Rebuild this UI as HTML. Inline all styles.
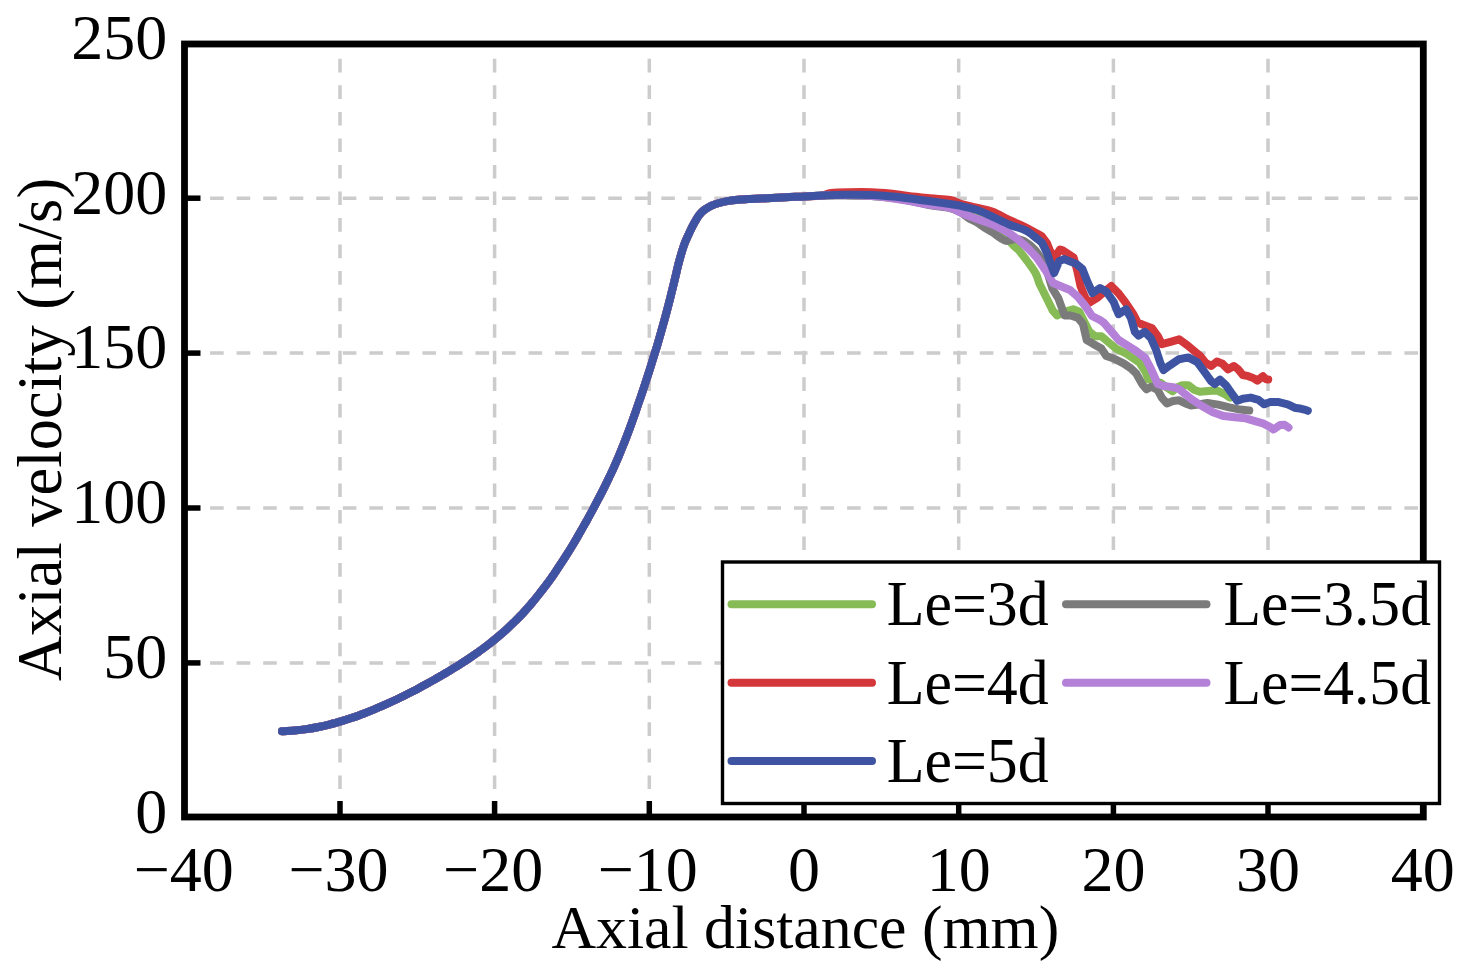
<!DOCTYPE html>
<html><head><meta charset="utf-8"><style>
html,body{margin:0;padding:0;background:#fff;}
body{width:1461px;height:977px;overflow:hidden;}
svg{display:block;}
</style></head><body>
<svg width="1461" height="977" viewBox="0 0 1461 977">
<rect width="1461" height="977" fill="#fff"/>
<g stroke="#CCCCCC" stroke-width="3.5" stroke-dasharray="13.6 12.94" fill="none">
<g stroke-dashoffset="-14.80"><line x1="340.0" y1="44.0" x2="340.0" y2="817.0"/>
<line x1="494.6" y1="44.0" x2="494.6" y2="817.0"/>
<line x1="649.3" y1="44.0" x2="649.3" y2="817.0"/>
<line x1="804.0" y1="44.0" x2="804.0" y2="817.0"/>
<line x1="958.7" y1="44.0" x2="958.7" y2="817.0"/>
<line x1="1113.4" y1="44.0" x2="1113.4" y2="817.0"/>
<line x1="1268.0" y1="44.0" x2="1268.0" y2="817.0"/></g>
<g stroke-dashoffset="-25.60"><line x1="184.5" y1="662.9" x2="1423.3" y2="662.9"/>
<line x1="184.5" y1="508.0" x2="1423.3" y2="508.0"/>
<line x1="184.5" y1="353.1" x2="1423.3" y2="353.1"/>
<line x1="184.5" y1="198.2" x2="1423.3" y2="198.2"/></g>
</g>
<g fill="none" stroke-width="8" stroke-linejoin="round" stroke-linecap="round">
<path d="M282.0,731.3 C284.1,731.2 290.3,731.0 294.4,730.6 C298.5,730.2 302.6,729.7 306.6,729.1 C310.6,728.5 314.6,727.8 318.5,727.0 C322.4,726.2 326.2,725.3 330.1,724.3 C334.0,723.3 337.8,722.2 341.6,721.1 C345.4,720.0 349.2,718.8 352.9,717.5 C356.6,716.2 360.3,714.8 364.0,713.4 C367.7,712.0 371.3,710.6 374.9,709.1 C378.5,707.6 382.1,706.0 385.7,704.4 C389.3,702.8 392.8,701.2 396.4,699.5 C399.9,697.8 403.5,696.1 407.0,694.3 C410.5,692.5 414.0,690.8 417.5,688.9 C421.0,687.0 424.4,685.1 427.9,683.2 C431.4,681.3 434.9,679.4 438.3,677.4 C441.8,675.4 445.2,673.4 448.6,671.4 C452.0,669.4 455.4,667.2 458.8,665.1 C462.2,663.0 465.5,660.8 468.8,658.6 C472.1,656.4 475.4,654.0 478.7,651.7 C481.9,649.4 485.1,647.0 488.3,644.6 C491.5,642.2 494.5,639.7 497.6,637.1 C500.7,634.5 503.7,631.9 506.7,629.2 C509.7,626.5 512.5,623.7 515.4,620.9 C518.2,618.1 521.1,615.2 523.8,612.2 C526.5,609.2 529.2,606.2 531.8,603.1 C534.4,600.0 537.0,596.8 539.5,593.6 C542.0,590.4 544.6,587.2 547.0,583.9 C549.4,580.6 551.8,577.3 554.1,573.9 C556.4,570.5 558.7,567.0 561.0,563.6 C563.3,560.2 565.5,556.7 567.7,553.2 C569.9,549.7 572.0,546.2 574.1,542.7 C576.2,539.2 578.2,535.6 580.3,532.0 C582.3,528.4 584.4,524.8 586.4,521.2 C588.4,517.6 590.4,514.1 592.3,510.5 C594.2,506.9 596.1,503.3 598.0,499.7 C599.9,496.1 601.8,492.5 603.6,488.9 C605.4,485.3 607.2,481.6 608.9,478.0 C610.6,474.4 612.4,470.8 614.0,467.1 C615.6,463.5 617.2,459.8 618.8,456.1 C620.3,452.4 621.8,448.8 623.3,445.1 C624.8,441.4 626.2,437.7 627.6,434.0 C629.0,430.3 630.4,426.5 631.7,422.8 C633.1,419.1 634.4,415.3 635.7,411.6 C637.0,407.9 638.2,404.2 639.5,400.5 C640.8,396.8 642.0,393.0 643.3,389.3 C644.5,385.6 645.8,381.8 647.0,378.1 C648.2,374.4 649.4,370.7 650.6,366.9 C651.8,363.1 652.9,359.3 654.1,355.5 C655.3,351.7 656.5,347.9 657.6,344.1 C658.7,340.3 659.8,336.5 660.9,332.6 C662.0,328.7 663.1,324.8 664.2,320.9 C665.3,317.0 666.4,313.0 667.4,309.0 C668.4,305.0 669.5,300.9 670.5,296.9 C671.5,292.8 672.5,288.8 673.5,284.7 C674.5,280.6 675.5,276.4 676.5,272.2 C677.5,268.0 678.3,264.3 679.6,259.7 C680.9,255.0 682.5,249.1 684.3,244.3 C686.1,239.5 688.5,234.6 690.2,231.0 C691.9,227.4 692.9,225.5 694.4,222.8 C695.9,220.1 697.5,217.2 699.2,215.0 C700.9,212.8 702.5,211.3 704.5,209.8 C706.5,208.3 708.6,206.9 711.0,205.8 C713.4,204.7 716.1,203.8 719.1,203.0 C722.1,202.2 725.6,201.4 728.7,200.9 C731.9,200.4 734.8,200.1 738.0,199.8 C741.2,199.5 743.2,199.4 748.0,199.1 C752.8,198.8 760.7,198.5 767.0,198.2 C773.3,197.9 779.7,197.5 786.0,197.2 C792.3,196.9 799.0,196.8 805.0,196.5 C811.0,196.2 817.7,195.8 822.0,195.6 C826.3,195.4 826.7,195.4 831.0,195.3 C835.3,195.2 841.2,195.1 848.0,195.2 C854.8,195.3 863.3,195.4 872.0,196.0 C880.7,196.6 890.9,197.7 900.0,199.0 C909.1,200.3 917.3,202.5 926.8,204.0 C936.3,205.5 949.0,206.5 957.0,208.0 C965.0,209.5 969.5,211.2 975.0,213.0 C980.5,214.8 985.8,216.5 990.0,219.0 C994.2,221.5 996.3,223.8 1000.0,228.0 C1003.7,232.2 1009.1,240.4 1012.3,244.2 C1015.5,247.9 1016.5,247.6 1019.0,250.5 C1021.5,253.4 1024.8,257.8 1027.5,261.5 C1030.2,265.2 1033.5,269.3 1035.5,273.0 C1037.5,276.7 1038.7,281.8 1039.3,283.5 L1046.7,298.3 L1052.8,310.6 L1057.2,315.5 L1064.6,311.8 L1073.2,309.3 L1079.3,311.8 L1084.2,321.6 L1089.1,331.4 L1095.3,336.3 L1101.4,336.3 L1108.8,342.5 L1116.2,348.6 L1126.0,353.5 L1133.4,358.5 L1139.2,362.3 L1145.3,371.5 L1148.4,379.5 L1160.7,382.8 L1166.0,387.0 L1172.4,391.3 L1177.0,387.5 L1182.2,385.3 L1188.3,385.3 L1194.5,390.0 L1200.0,391.8 L1211.3,390.8 L1218.0,390.8 L1224.8,394.2 L1230.0,397.5" stroke="#86BB56"/>
<path d="M282.0,731.3 C284.1,731.2 290.3,731.0 294.4,730.6 C298.5,730.2 302.6,729.7 306.6,729.1 C310.6,728.5 314.6,727.8 318.5,727.0 C322.4,726.2 326.2,725.3 330.1,724.3 C334.0,723.3 337.8,722.2 341.6,721.1 C345.4,720.0 349.2,718.8 352.9,717.5 C356.6,716.2 360.3,714.8 364.0,713.4 C367.7,712.0 371.3,710.6 374.9,709.1 C378.5,707.6 382.1,706.0 385.7,704.4 C389.3,702.8 392.8,701.2 396.4,699.5 C399.9,697.8 403.5,696.1 407.0,694.3 C410.5,692.5 414.0,690.8 417.5,688.9 C421.0,687.0 424.4,685.1 427.9,683.2 C431.4,681.3 434.9,679.4 438.3,677.4 C441.8,675.4 445.2,673.4 448.6,671.4 C452.0,669.4 455.4,667.2 458.8,665.1 C462.2,663.0 465.5,660.8 468.8,658.6 C472.1,656.4 475.4,654.0 478.7,651.7 C481.9,649.4 485.1,647.0 488.3,644.6 C491.5,642.2 494.5,639.7 497.6,637.1 C500.7,634.5 503.7,631.9 506.7,629.2 C509.7,626.5 512.5,623.7 515.4,620.9 C518.2,618.1 521.1,615.2 523.8,612.2 C526.5,609.2 529.2,606.2 531.8,603.1 C534.4,600.0 537.0,596.8 539.5,593.6 C542.0,590.4 544.6,587.2 547.0,583.9 C549.4,580.6 551.8,577.3 554.1,573.9 C556.4,570.5 558.7,567.0 561.0,563.6 C563.3,560.2 565.5,556.7 567.7,553.2 C569.9,549.7 572.0,546.2 574.1,542.7 C576.2,539.2 578.2,535.6 580.3,532.0 C582.3,528.4 584.4,524.8 586.4,521.2 C588.4,517.6 590.4,514.1 592.3,510.5 C594.2,506.9 596.1,503.3 598.0,499.7 C599.9,496.1 601.8,492.5 603.6,488.9 C605.4,485.3 607.2,481.6 608.9,478.0 C610.6,474.4 612.4,470.8 614.0,467.1 C615.6,463.5 617.2,459.8 618.8,456.1 C620.3,452.4 621.8,448.8 623.3,445.1 C624.8,441.4 626.2,437.7 627.6,434.0 C629.0,430.3 630.4,426.5 631.7,422.8 C633.1,419.1 634.4,415.3 635.7,411.6 C637.0,407.9 638.2,404.2 639.5,400.5 C640.8,396.8 642.0,393.0 643.3,389.3 C644.5,385.6 645.8,381.8 647.0,378.1 C648.2,374.4 649.4,370.7 650.6,366.9 C651.8,363.1 652.9,359.3 654.1,355.5 C655.3,351.7 656.5,347.9 657.6,344.1 C658.7,340.3 659.8,336.5 660.9,332.6 C662.0,328.7 663.1,324.8 664.2,320.9 C665.3,317.0 666.4,313.0 667.4,309.0 C668.4,305.0 669.5,300.9 670.5,296.9 C671.5,292.8 672.5,288.8 673.5,284.7 C674.5,280.6 675.5,276.4 676.5,272.2 C677.5,268.0 678.3,264.3 679.6,259.7 C680.9,255.0 682.5,249.1 684.3,244.3 C686.1,239.5 688.5,234.6 690.2,231.0 C691.9,227.4 692.9,225.5 694.4,222.8 C695.9,220.1 697.5,217.2 699.2,215.0 C700.9,212.8 702.5,211.3 704.5,209.8 C706.5,208.3 708.6,206.9 711.0,205.8 C713.4,204.7 716.1,203.8 719.1,203.0 C722.1,202.2 725.6,201.4 728.7,200.9 C731.9,200.4 734.8,200.1 738.0,199.8 C741.2,199.5 743.2,199.4 748.0,199.1 C752.8,198.8 760.7,198.5 767.0,198.2 C773.3,197.9 779.7,197.5 786.0,197.2 C792.3,196.9 799.0,196.8 805.0,196.5 C811.0,196.2 817.7,195.8 822.0,195.6 C826.3,195.4 826.7,195.4 831.0,195.3 C835.3,195.2 841.2,195.1 848.0,195.2 C854.8,195.3 863.3,195.4 872.0,196.0 C880.7,196.6 890.9,197.1 900.0,198.5 C909.1,199.9 918.5,202.9 926.8,204.5 C935.1,206.1 944.5,206.8 950.0,208.0 C955.5,209.2 957.0,210.4 960.0,212.0 C963.0,213.6 965.5,216.1 968.2,217.8 C970.9,219.5 973.7,220.4 976.4,222.0 C979.1,223.6 981.9,225.8 984.6,227.6 C987.3,229.3 990.1,230.7 992.8,232.5 C995.5,234.3 998.7,236.9 1001.0,238.3 C1003.3,239.7 1004.2,240.9 1006.7,241.0 C1009.2,241.1 1013.1,239.0 1016.0,239.0 C1018.9,239.0 1020.8,239.2 1024.0,241.0 C1027.2,242.8 1031.7,246.4 1035.0,250.0 C1038.3,253.6 1042.5,260.4 1044.0,262.5 L1048.0,274.0 L1052.3,288.4 L1058.4,298.3 L1064.6,315.5 L1070.7,315.5 L1078.1,317.9 L1083.0,324.0 L1086.7,340.0 L1092.8,343.7 L1101.4,348.6 L1106.3,356.0 L1113.7,358.5 L1123.5,363.4 L1130.9,368.3 L1136.1,373.3 L1142.3,384.4 L1146.6,389.3 L1151.5,386.8 L1157.6,389.9 L1161.9,397.9 L1166.8,403.4 L1173.0,401.0 L1179.1,400.3 L1185.5,403.5 L1191.0,405.5 L1198.0,404.5 L1207.4,403.0 L1218.3,404.6 L1229.3,407.4 L1240.2,409.6 L1249.3,410.5" stroke="#7B7B7B"/>
<path d="M282.0,731.3 C284.1,731.2 290.3,731.0 294.4,730.6 C298.5,730.2 302.6,729.7 306.6,729.1 C310.6,728.5 314.6,727.8 318.5,727.0 C322.4,726.2 326.2,725.3 330.1,724.3 C334.0,723.3 337.8,722.2 341.6,721.1 C345.4,720.0 349.2,718.8 352.9,717.5 C356.6,716.2 360.3,714.8 364.0,713.4 C367.7,712.0 371.3,710.6 374.9,709.1 C378.5,707.6 382.1,706.0 385.7,704.4 C389.3,702.8 392.8,701.2 396.4,699.5 C399.9,697.8 403.5,696.1 407.0,694.3 C410.5,692.5 414.0,690.8 417.5,688.9 C421.0,687.0 424.4,685.1 427.9,683.2 C431.4,681.3 434.9,679.4 438.3,677.4 C441.8,675.4 445.2,673.4 448.6,671.4 C452.0,669.4 455.4,667.2 458.8,665.1 C462.2,663.0 465.5,660.8 468.8,658.6 C472.1,656.4 475.4,654.0 478.7,651.7 C481.9,649.4 485.1,647.0 488.3,644.6 C491.5,642.2 494.5,639.7 497.6,637.1 C500.7,634.5 503.7,631.9 506.7,629.2 C509.7,626.5 512.5,623.7 515.4,620.9 C518.2,618.1 521.1,615.2 523.8,612.2 C526.5,609.2 529.2,606.2 531.8,603.1 C534.4,600.0 537.0,596.8 539.5,593.6 C542.0,590.4 544.6,587.2 547.0,583.9 C549.4,580.6 551.8,577.3 554.1,573.9 C556.4,570.5 558.7,567.0 561.0,563.6 C563.3,560.2 565.5,556.7 567.7,553.2 C569.9,549.7 572.0,546.2 574.1,542.7 C576.2,539.2 578.2,535.6 580.3,532.0 C582.3,528.4 584.4,524.8 586.4,521.2 C588.4,517.6 590.4,514.1 592.3,510.5 C594.2,506.9 596.1,503.3 598.0,499.7 C599.9,496.1 601.8,492.5 603.6,488.9 C605.4,485.3 607.2,481.6 608.9,478.0 C610.6,474.4 612.4,470.8 614.0,467.1 C615.6,463.5 617.2,459.8 618.8,456.1 C620.3,452.4 621.8,448.8 623.3,445.1 C624.8,441.4 626.2,437.7 627.6,434.0 C629.0,430.3 630.4,426.5 631.7,422.8 C633.1,419.1 634.4,415.3 635.7,411.6 C637.0,407.9 638.2,404.2 639.5,400.5 C640.8,396.8 642.0,393.0 643.3,389.3 C644.5,385.6 645.8,381.8 647.0,378.1 C648.2,374.4 649.4,370.7 650.6,366.9 C651.8,363.1 652.9,359.3 654.1,355.5 C655.3,351.7 656.5,347.9 657.6,344.1 C658.7,340.3 659.8,336.5 660.9,332.6 C662.0,328.7 663.1,324.8 664.2,320.9 C665.3,317.0 666.4,313.0 667.4,309.0 C668.4,305.0 669.5,300.9 670.5,296.9 C671.5,292.8 672.5,288.8 673.5,284.7 C674.5,280.6 675.5,276.4 676.5,272.2 C677.5,268.0 678.3,264.3 679.6,259.7 C680.9,255.0 682.5,249.1 684.3,244.3 C686.1,239.5 688.5,234.6 690.2,231.0 C691.9,227.4 692.9,225.5 694.4,222.8 C695.9,220.1 697.5,217.2 699.2,215.0 C700.9,212.8 702.5,211.3 704.5,209.8 C706.5,208.3 708.6,206.9 711.0,205.8 C713.4,204.7 716.1,203.8 719.1,203.0 C722.1,202.2 725.6,201.4 728.7,200.9 C731.9,200.4 734.8,200.1 738.0,199.8 C741.2,199.5 743.2,199.4 748.0,199.1 C752.8,198.8 760.7,198.5 767.0,198.2 C773.3,197.9 779.7,197.5 786.0,197.2 C792.3,196.9 799.0,196.8 805.0,196.5 C811.0,196.2 817.7,196.2 822.0,195.6 C826.3,195.0 826.7,193.6 831.0,193.0 C835.3,192.4 841.2,192.3 848.0,192.2 C854.8,192.1 865.0,192.0 872.0,192.2 C879.0,192.4 884.0,192.9 890.0,193.5 C896.0,194.1 901.6,195.2 908.3,196.0 C915.0,196.8 923.2,197.6 930.2,198.3 C937.2,199.0 945.0,199.1 950.0,200.0 C955.0,200.9 955.6,202.2 960.0,203.5 C964.4,204.8 970.9,206.2 976.4,207.6 C981.9,209.0 987.3,209.6 992.8,211.7 C998.2,213.8 1003.6,217.3 1009.1,219.9 C1014.6,222.5 1020.0,224.6 1025.5,227.3 C1031.0,230.0 1039.2,234.8 1041.9,236.3 L1046.8,242.8 L1050.1,251.0 L1054.5,258.0 L1060.0,249.5 L1062.7,250.4 L1073.7,257.7 L1077.4,271.3 L1080.5,286.0 L1085.5,298.3 L1089.5,302.6 L1097.7,297.6 L1104.0,292.0 L1111.3,286.0 L1118.6,293.3 L1126.0,303.2 L1133.4,314.2 L1137.4,322.1 L1142.3,324.6 L1152.1,328.3 L1158.3,336.9 L1161.9,344.2 L1170.5,341.8 L1179.1,339.3 L1187.7,345.5 L1196.3,352.8 L1200.0,355.9 L1205.6,362.7 L1211.3,366.0 L1216.9,361.5 L1222.5,363.8 L1228.1,369.4 L1233.8,366.0 L1238.3,369.4 L1242.8,375.0 L1248.4,376.2 L1254.0,378.4 L1257.4,380.7 L1263.0,376.2 L1266.0,379.3 L1268.3,379.5" stroke="#D4373A"/>
<path d="M282.0,731.3 C284.1,731.2 290.3,731.0 294.4,730.6 C298.5,730.2 302.6,729.7 306.6,729.1 C310.6,728.5 314.6,727.8 318.5,727.0 C322.4,726.2 326.2,725.3 330.1,724.3 C334.0,723.3 337.8,722.2 341.6,721.1 C345.4,720.0 349.2,718.8 352.9,717.5 C356.6,716.2 360.3,714.8 364.0,713.4 C367.7,712.0 371.3,710.6 374.9,709.1 C378.5,707.6 382.1,706.0 385.7,704.4 C389.3,702.8 392.8,701.2 396.4,699.5 C399.9,697.8 403.5,696.1 407.0,694.3 C410.5,692.5 414.0,690.8 417.5,688.9 C421.0,687.0 424.4,685.1 427.9,683.2 C431.4,681.3 434.9,679.4 438.3,677.4 C441.8,675.4 445.2,673.4 448.6,671.4 C452.0,669.4 455.4,667.2 458.8,665.1 C462.2,663.0 465.5,660.8 468.8,658.6 C472.1,656.4 475.4,654.0 478.7,651.7 C481.9,649.4 485.1,647.0 488.3,644.6 C491.5,642.2 494.5,639.7 497.6,637.1 C500.7,634.5 503.7,631.9 506.7,629.2 C509.7,626.5 512.5,623.7 515.4,620.9 C518.2,618.1 521.1,615.2 523.8,612.2 C526.5,609.2 529.2,606.2 531.8,603.1 C534.4,600.0 537.0,596.8 539.5,593.6 C542.0,590.4 544.6,587.2 547.0,583.9 C549.4,580.6 551.8,577.3 554.1,573.9 C556.4,570.5 558.7,567.0 561.0,563.6 C563.3,560.2 565.5,556.7 567.7,553.2 C569.9,549.7 572.0,546.2 574.1,542.7 C576.2,539.2 578.2,535.6 580.3,532.0 C582.3,528.4 584.4,524.8 586.4,521.2 C588.4,517.6 590.4,514.1 592.3,510.5 C594.2,506.9 596.1,503.3 598.0,499.7 C599.9,496.1 601.8,492.5 603.6,488.9 C605.4,485.3 607.2,481.6 608.9,478.0 C610.6,474.4 612.4,470.8 614.0,467.1 C615.6,463.5 617.2,459.8 618.8,456.1 C620.3,452.4 621.8,448.8 623.3,445.1 C624.8,441.4 626.2,437.7 627.6,434.0 C629.0,430.3 630.4,426.5 631.7,422.8 C633.1,419.1 634.4,415.3 635.7,411.6 C637.0,407.9 638.2,404.2 639.5,400.5 C640.8,396.8 642.0,393.0 643.3,389.3 C644.5,385.6 645.8,381.8 647.0,378.1 C648.2,374.4 649.4,370.7 650.6,366.9 C651.8,363.1 652.9,359.3 654.1,355.5 C655.3,351.7 656.5,347.9 657.6,344.1 C658.7,340.3 659.8,336.5 660.9,332.6 C662.0,328.7 663.1,324.8 664.2,320.9 C665.3,317.0 666.4,313.0 667.4,309.0 C668.4,305.0 669.5,300.9 670.5,296.9 C671.5,292.8 672.5,288.8 673.5,284.7 C674.5,280.6 675.5,276.4 676.5,272.2 C677.5,268.0 678.3,264.3 679.6,259.7 C680.9,255.0 682.5,249.1 684.3,244.3 C686.1,239.5 688.5,234.6 690.2,231.0 C691.9,227.4 692.9,225.5 694.4,222.8 C695.9,220.1 697.5,217.2 699.2,215.0 C700.9,212.8 702.5,211.3 704.5,209.8 C706.5,208.3 708.6,206.9 711.0,205.8 C713.4,204.7 716.1,203.8 719.1,203.0 C722.1,202.2 725.6,201.4 728.7,200.9 C731.9,200.4 734.8,200.1 738.0,199.8 C741.2,199.5 743.2,199.4 748.0,199.1 C752.8,198.8 760.7,198.5 767.0,198.2 C773.3,197.9 779.7,197.5 786.0,197.2 C792.3,196.9 799.0,196.8 805.0,196.5 C811.0,196.2 817.7,195.8 822.0,195.6 C826.3,195.4 826.7,195.4 831.0,195.3 C835.3,195.2 841.2,195.1 848.0,195.2 C854.8,195.3 863.3,195.3 872.0,196.0 C880.7,196.7 890.9,198.1 900.0,199.5 C909.1,200.9 918.5,202.9 926.8,204.3 C935.1,205.7 944.5,206.5 950.0,207.8 C955.5,209.1 955.6,210.5 960.0,212.3 C964.4,214.1 970.9,216.8 976.4,218.8 C981.9,220.9 987.3,222.2 992.8,224.6 C998.2,227.0 1003.6,229.6 1009.1,233.2 C1014.6,236.8 1020.9,241.8 1025.5,245.9 C1030.1,250.0 1035.0,255.7 1036.9,257.7 L1046.0,271.0 L1053.0,283.0 L1061.4,286.5 L1070.0,290.0 L1078.0,297.0 L1085.0,305.6 L1092.0,316.0 L1100.0,320.0 L1104.0,322.8 L1111.3,331.4 L1118.6,340.0 L1128.5,346.2 L1136.1,351.0 L1145.3,358.0 L1150.3,367.5 L1154.6,377.0 L1157.6,384.0 L1163.8,386.0 L1173.0,387.2 L1179.1,389.0 L1185.2,394.2 L1191.0,398.8 L1201.9,406.0 L1212.9,412.3 L1223.8,416.1 L1234.8,417.2 L1245.7,418.3 L1256.7,421.6 L1263.0,423.4 L1269.8,426.8 L1273.5,429.5 L1280.0,425.0 L1284.5,424.8 L1288.5,427.5" stroke="#B480D8"/>
<path d="M282.0,731.3 C284.1,731.2 290.3,731.0 294.4,730.6 C298.5,730.2 302.6,729.7 306.6,729.1 C310.6,728.5 314.6,727.8 318.5,727.0 C322.4,726.2 326.2,725.3 330.1,724.3 C334.0,723.3 337.8,722.2 341.6,721.1 C345.4,720.0 349.2,718.8 352.9,717.5 C356.6,716.2 360.3,714.8 364.0,713.4 C367.7,712.0 371.3,710.6 374.9,709.1 C378.5,707.6 382.1,706.0 385.7,704.4 C389.3,702.8 392.8,701.2 396.4,699.5 C399.9,697.8 403.5,696.1 407.0,694.3 C410.5,692.5 414.0,690.8 417.5,688.9 C421.0,687.0 424.4,685.1 427.9,683.2 C431.4,681.3 434.9,679.4 438.3,677.4 C441.8,675.4 445.2,673.4 448.6,671.4 C452.0,669.4 455.4,667.2 458.8,665.1 C462.2,663.0 465.5,660.8 468.8,658.6 C472.1,656.4 475.4,654.0 478.7,651.7 C481.9,649.4 485.1,647.0 488.3,644.6 C491.5,642.2 494.5,639.7 497.6,637.1 C500.7,634.5 503.7,631.9 506.7,629.2 C509.7,626.5 512.5,623.7 515.4,620.9 C518.2,618.1 521.1,615.2 523.8,612.2 C526.5,609.2 529.2,606.2 531.8,603.1 C534.4,600.0 537.0,596.8 539.5,593.6 C542.0,590.4 544.6,587.2 547.0,583.9 C549.4,580.6 551.8,577.3 554.1,573.9 C556.4,570.5 558.7,567.0 561.0,563.6 C563.3,560.2 565.5,556.7 567.7,553.2 C569.9,549.7 572.0,546.2 574.1,542.7 C576.2,539.2 578.2,535.6 580.3,532.0 C582.3,528.4 584.4,524.8 586.4,521.2 C588.4,517.6 590.4,514.1 592.3,510.5 C594.2,506.9 596.1,503.3 598.0,499.7 C599.9,496.1 601.8,492.5 603.6,488.9 C605.4,485.3 607.2,481.6 608.9,478.0 C610.6,474.4 612.4,470.8 614.0,467.1 C615.6,463.5 617.2,459.8 618.8,456.1 C620.3,452.4 621.8,448.8 623.3,445.1 C624.8,441.4 626.2,437.7 627.6,434.0 C629.0,430.3 630.4,426.5 631.7,422.8 C633.1,419.1 634.4,415.3 635.7,411.6 C637.0,407.9 638.2,404.2 639.5,400.5 C640.8,396.8 642.0,393.0 643.3,389.3 C644.5,385.6 645.8,381.8 647.0,378.1 C648.2,374.4 649.4,370.7 650.6,366.9 C651.8,363.1 652.9,359.3 654.1,355.5 C655.3,351.7 656.5,347.9 657.6,344.1 C658.7,340.3 659.8,336.5 660.9,332.6 C662.0,328.7 663.1,324.8 664.2,320.9 C665.3,317.0 666.4,313.0 667.4,309.0 C668.4,305.0 669.5,300.9 670.5,296.9 C671.5,292.8 672.5,288.8 673.5,284.7 C674.5,280.6 675.5,276.4 676.5,272.2 C677.5,268.0 678.3,264.3 679.6,259.7 C680.9,255.0 682.5,249.1 684.3,244.3 C686.1,239.5 688.5,234.6 690.2,231.0 C691.9,227.4 692.9,225.5 694.4,222.8 C695.9,220.1 697.5,217.2 699.2,215.0 C700.9,212.8 702.5,211.3 704.5,209.8 C706.5,208.3 708.6,206.9 711.0,205.8 C713.4,204.7 716.1,203.8 719.1,203.0 C722.1,202.2 725.6,201.4 728.7,200.9 C731.9,200.4 734.8,200.1 738.0,199.8 C741.2,199.5 743.2,199.4 748.0,199.1 C752.8,198.8 760.7,198.5 767.0,198.2 C773.3,197.9 779.7,197.5 786.0,197.2 C792.3,196.9 799.0,196.8 805.0,196.5 C811.0,196.2 817.7,195.8 822.0,195.6 C826.3,195.4 826.7,195.2 831.0,195.1 C835.3,194.9 841.2,194.7 848.0,194.7 C854.8,194.7 864.0,194.6 872.0,194.9 C880.0,195.2 886.9,195.8 896.0,196.8 C905.1,197.8 917.9,199.6 926.9,200.8 C935.9,202.0 944.5,203.2 950.0,204.0 C955.5,204.8 955.6,204.7 960.0,205.7 C964.4,206.7 970.9,208.0 976.4,209.8 C981.9,211.7 987.3,214.4 992.8,216.8 C998.2,219.2 1003.6,222.2 1009.1,224.5 C1014.6,226.8 1021.4,228.4 1025.5,230.3 C1029.6,232.2 1031.0,233.9 1033.7,236.0 C1036.4,238.1 1040.5,241.5 1041.9,242.6 L1046.8,252.4 L1050.1,262.2 L1054.2,273.0 L1059.0,261.4 L1063.9,259.0 L1076.2,263.9 L1082.3,268.8 L1087.5,282.0 L1092.5,293.0 L1100.0,288.0 L1106.3,291.5 L1113.7,302.0 L1118.6,314.2 L1126.0,309.3 L1130.9,317.9 L1134.9,331.9 L1138.6,335.6 L1144.7,331.9 L1150.9,338.1 L1155.8,349.1 L1160.7,363.9 L1163.5,370.0 L1169.9,365.3 L1179.1,359.2 L1188.3,357.4 L1197.5,362.3 L1204.9,372.5 L1211.1,381.1 L1214.6,384.0 L1220.0,379.7 L1225.9,385.2 L1231.5,393.0 L1237.2,400.9 L1242.8,398.7 L1250.7,397.6 L1258.5,399.8 L1264.2,404.3 L1269.8,402.1 L1278.8,402.1 L1287.8,404.3 L1294.6,407.7 L1301.3,408.8 L1305.5,409.9 L1307.8,410.8" stroke="#3E54A3"/>
</g>
<rect x="184.5" y="44.0" width="1238.8" height="773.0" fill="none" stroke="#000" stroke-width="6.8"/>
<g stroke="#000" stroke-width="5.5"><line x1="340.0" y1="817.0" x2="340.0" y2="801.0"/><line x1="494.6" y1="817.0" x2="494.6" y2="801.0"/><line x1="649.3" y1="817.0" x2="649.3" y2="801.0"/><line x1="804.0" y1="817.0" x2="804.0" y2="801.0"/><line x1="958.7" y1="817.0" x2="958.7" y2="801.0"/><line x1="1113.4" y1="817.0" x2="1113.4" y2="801.0"/><line x1="1268.0" y1="817.0" x2="1268.0" y2="801.0"/><line x1="184.5" y1="662.9" x2="200.5" y2="662.9"/><line x1="184.5" y1="508.0" x2="200.5" y2="508.0"/><line x1="184.5" y1="353.1" x2="200.5" y2="353.1"/><line x1="184.5" y1="198.2" x2="200.5" y2="198.2"/></g>
<rect x="722.5" y="562" width="717.0" height="241.5" fill="#fff" stroke="#000" stroke-width="3.4"/>
<g stroke-width="8" stroke-linecap="round">
<line x1="731.5" y1="604.2" x2="872" y2="604.2" stroke="#86BB56"/>
<line x1="1066" y1="604.2" x2="1206.5" y2="604.2" stroke="#7B7B7B"/>
<line x1="731.5" y1="682.8" x2="872" y2="682.8" stroke="#D4373A"/>
<line x1="1066" y1="682.8" x2="1206.5" y2="682.8" stroke="#B480D8"/>
<line x1="731.5" y1="761" x2="872" y2="761" stroke="#3E54A3"/>
</g>
<g font-family="Liberation Serif, serif" font-size="64" fill="#000">
<text x="886.72" y="625.40" font-size="63.5" textLength="162.04" lengthAdjust="spacingAndGlyphs">Le=3d</text>
<text x="1223.43" y="625.40" font-size="63.5" textLength="207.53" lengthAdjust="spacingAndGlyphs">Le=3.5d</text>
<text x="886.72" y="703.90" font-size="63.5" textLength="162.04" lengthAdjust="spacingAndGlyphs">Le=4d</text>
<text x="1223.43" y="703.90" font-size="63.5" textLength="207.53" lengthAdjust="spacingAndGlyphs">Le=4.5d</text>
<text x="886.72" y="781.80" font-size="63.5" textLength="162.04" lengthAdjust="spacingAndGlyphs">Le=5d</text>
<text x="167.2" y="833.1" text-anchor="end">0</text>
<text x="167.2" y="678.2" text-anchor="end">50</text>
<text x="167.2" y="523.3" text-anchor="end">100</text>
<text x="167.2" y="368.4" text-anchor="end">150</text>
<text x="167.2" y="213.5" text-anchor="end">200</text>
<text x="167.2" y="58.6" text-anchor="end">250</text>
<text x="183.8" y="891" text-anchor="middle">−40</text>
<text x="338.5" y="891" text-anchor="middle">−30</text>
<text x="493.1" y="891" text-anchor="middle">−20</text>
<text x="647.8" y="891" text-anchor="middle">−10</text>
<text x="804.0" y="891" text-anchor="middle">0</text>
<text x="958.7" y="891" text-anchor="middle">10</text>
<text x="1113.4" y="891" text-anchor="middle">20</text>
<text x="1268.0" y="891" text-anchor="middle">30</text>
<text x="1422.7" y="891" text-anchor="middle">40</text>
<text x="551.40" y="948.00" font-size="61.5" textLength="507.82" lengthAdjust="spacingAndGlyphs">Axial distance (mm)</text>
<g transform="translate(60.8,681) rotate(-90)"><text x="-0.11" y="0.00" font-size="62.5" textLength="503.36" lengthAdjust="spacingAndGlyphs">Axial velocity (m/s)</text></g>
</g>
</svg>
</body></html>
